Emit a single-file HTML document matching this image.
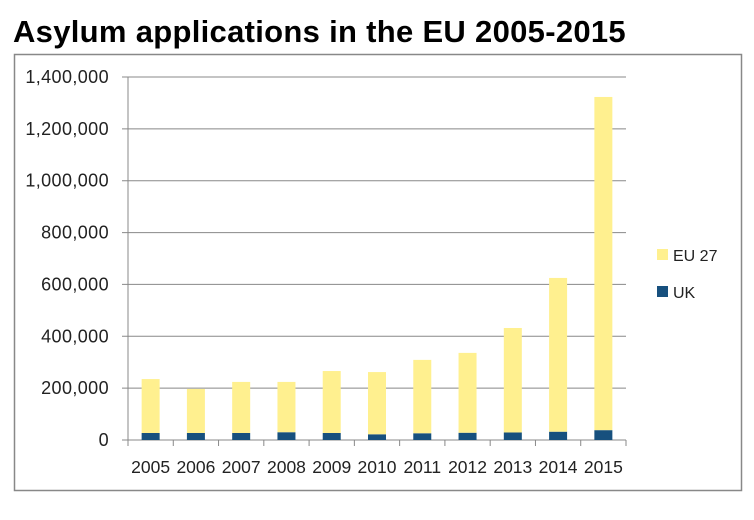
<!DOCTYPE html>
<html><head><meta charset="utf-8"><style>
body{margin:0;background:#fff;width:754px;height:515px;overflow:hidden;font-family:"Liberation Sans",sans-serif}
</style></head><body>
<svg id="c" width="754" height="515" xmlns="http://www.w3.org/2000/svg">
<text x="13" y="42" font-size="31" font-weight="bold" fill="#000" letter-spacing="0.3">Asylum applications in the EU 2005-2015</text>
<rect x="14.5" y="54.5" width="727" height="436" fill="#fff" stroke="#888" stroke-width="1.5"/>
<g id="grid"></g><g id="bars"></g><g id="axes"></g>
<rect x="657" y="249" width="11" height="11" fill="#FFF08F"/>
<text x="673" y="261" font-size="16" fill="#222">EU 27</text>
<rect x="657" y="286" width="11" height="11" fill="#17507E"/>
<text x="673" y="298" font-size="16" fill="#222">UK</text>
</svg>
<script>
const years=["2005","2006","2007","2008","2009","2010","2011","2012","2013","2014","2015"];
const ukValues=[27000,27000,27000,30000,27000,22000,26000,28000,29000,32000,38000];
const eu27Values=[208000,170000,197000,194000,239000,240000,283000,308000,403000,593000,1285000];
const yTicks=[0,200000,400000,600000,800000,1000000,1200000,1400000];
const yTickLabels=["0","200,000","400,000","600,000","800,000","1,000,000","1,200,000","1,400,000"];
const NS="http://www.w3.org/2000/svg";
const x0=128,x1=626,y0=440,y1=77,yMax=1400000;
const yS=v=>y0-(v/yMax)*(y0-y1);
const bw=(x1-x0)/years.length;
const xS=i=>x0+bw*(i+0.5);
function mk(t,a,p){const e=document.createElementNS(NS,t);for(const k in a)e.setAttribute(k,a[k]);p.appendChild(e);return e;}
const g=document.getElementById('grid'),b=document.getElementById('bars'),ax=document.getElementById('axes');
yTicks.forEach((v,i)=>{
 const l=mk('line',{x1:x0-6,x2:x1,y1:yS(v),y2:yS(v),stroke:'#888','stroke-width':1},g);
 
 
 const t=mk('text',{x:x0-19,y:yS(v)+6,'text-anchor':'end','font-size':18,'letter-spacing':0.4,fill:'#222'},ax);
 t.textContent=yTickLabels[i];
 
 
});
mk('line',{x1:x0,x2:x0,y1:y1,y2:y0+6,stroke:'#888'},ax);
for(let i=0;i<=years.length;i++){mk('line',{x1:x0+bw*i,x2:x0+bw*i,y1:y0,y2:y0+6,stroke:'#888'},ax);}
years.forEach((yr,i)=>{
 const w=18,x=xS(i)-w/2;
 const u=mk('rect',{x:x,y:yS(ukValues[i]),width:w,height:y0-yS(ukValues[i]),fill:'#17507E'},b);
 
 
 const top=yS(ukValues[i]+eu27Values[i]);
 const e=mk('rect',{x:x,y:top,width:w,height:yS(ukValues[i])-top,fill:'#FFF08F'},b);
 
 
 const t=mk('text',{x:xS(i),y:473,'text-anchor':'middle','font-size':17.5,fill:'#222'},ax);
 t.textContent=yr;
 
 
});
</script>
</body></html>
